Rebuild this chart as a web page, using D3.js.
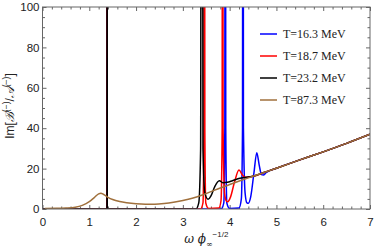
<!DOCTYPE html>
<meta charset="utf-8">
<style>
  body { margin: 0; background: #fff; }
  text { font-family: "Liberation Sans", Arial, sans-serif; }
</style>
<script src="https://d3js.org/d3.v7.min.js"></script>
<div id="chart"></div>
<script>
    // curves, [omega, Im(B/A)]
    const brown = [
        [0.05, 0.3], [0.3, 0.35], [0.5, 0.5], [0.7, 0.9], [0.85, 1.8], [1.0, 3.6],
        [1.1, 5.5], [1.2, 7.5], [1.25, 7.8], [1.3, 7.3], [1.4, 5.8], [1.5, 4.7],
        [1.65, 3.7], [1.8, 3.1], [2.0, 2.6], [2.2, 2.4], [2.4, 2.4], [2.6, 2.7],
        [2.8, 3.3], [3.0, 4.2], [3.2, 5.3], [3.4, 6.8], [3.6, 8.6], [3.8, 10.4],
        [4.0, 12.1], [4.25, 14.2], [4.5, 16.2], [4.75, 18.2], [5.0, 20.2],
        [5.5, 24.3], [6.0, 28.3], [6.5, 32.5], [7.0, 37]
    ];
    const blueHead = [
        [0, 0], [1.376, 0], [1.379, 400], [1.382, 0],
        [3.82, 0], [3.875, 3], [3.897, 40], [3.907, 400], [3.917, 40], [3.94, 3], [4.0, 0.3],
        [4.2, 0.5], [4.25, 5], [4.275, 40], [4.285, 400], [4.295, 40], [4.33, 8], [4.37, 3],
        [4.4, 2.8], [4.45, 6], [4.52, 18], [4.58, 27.9], [4.63, 22], [4.68, 17],
        [4.72, 16.8], [4.78, 18]
    ];
    const redHead = [
        [0, 0], [1.378, 0], [1.381, 400], [1.384, 0],
        [3.38, 0], [3.43, 3], [3.45, 40], [3.46, 400], [3.47, 40], [3.49, 3], [3.55, 0.3],
        [3.77, 0.5], [3.815, 4], [3.84, 40], [3.85, 400], [3.86, 40], [3.89, 8], [3.93, 4],
        [3.96, 3.6], [4.02, 6], [4.1, 13], [4.2, 19.3], [4.27, 17], [4.33, 15.7], [4.4, 15.8]
    ];
    const blackHead = [
        [0, 0], [1.378, 0], [1.381, 400], [1.384, 0],
        [3.28, 0], [3.34, 3], [3.38, 30], [3.398, 400], [3.412, 400], [3.43, 30], [3.47, 8],
        [3.54, 4.8], [3.6, 6.5], [3.68, 11], [3.78, 14], [3.86, 13], [3.95, 13.2],
        [4.06, 14], [4.22, 15.2]
    ];
    const blue = blueHead.concat(brown.filter(d => d[0] > 4.8));
    const red = redHead.concat(brown.filter(d => d[0] > 4.45));
    const black = blackHead.concat(brown.filter(d => d[0] > 4.3));

    const seriesNames = ["T=16.3 MeV", "T=18.7 MeV", "T=23.2 MeV", "T=87.3 MeV"];
    const seriesColors = ["#0000ff", "#ff0000", "#000000", "#a0703c"];
    const seriesData = [blue, red, black, brown];

    const xTicks = [0, 1, 2, 3, 4, 5, 6, 7];
    const yTicks = [0, 20, 40, 60, 80, 100];

    var width = 374, height = 248;
    var margin = {top: 7, right: 4, bottom: 39, left: 42.5};
    var w = width - margin.left - margin.right,
        h = height - margin.top - margin.bottom;

    var svg = d3.select("#chart").append("svg")
        .attr("width", width)
        .attr("height", height)
      .append("g")
        .attr("transform", "translate(" + margin.left + "," + margin.top + ")");

    var x = d3.scaleLinear().domain([0, 7]).range([0, w]);
    var y = d3.scaleLinear().domain([0, 100]).range([h, 0]);

    svg.append("clipPath").attr("id", "clip")
        .append("rect").attr("width", w).attr("height", h);

    // minor ticks
    var xMinor = d3.range(0, 7.001, 0.2).filter(v => Math.abs(v - Math.round(v)) > 1e-6);
    var yMinor = d3.range(0, 100.1, 5).filter(v => v % 20 !== 0);

    function frameAxis(g, axis) {
        g.call(axis);
        g.select(".domain").remove();
        g.selectAll("line").attr("stroke", "#666");
        g.selectAll("text").attr("fill", "#222").style("font-size", "11.5px");
    }

    svg.append("g").attr("transform", "translate(0," + h + ")")
        .call(frameAxis, d3.axisBottom(x).tickValues(xTicks).tickSize(-4).tickPadding(8.5).tickFormat(d3.format("d")));
    svg.append("g").attr("transform", "translate(0," + h + ")")
        .call(frameAxis, d3.axisBottom(x).tickValues(xMinor).tickSize(-2.5).tickFormat(""));
    svg.append("g")
        .call(frameAxis, d3.axisTop(x).tickValues(xTicks).tickSize(-4).tickFormat(""));
    svg.append("g")
        .call(frameAxis, d3.axisTop(x).tickValues(xMinor).tickSize(-2.5).tickFormat(""));
    svg.append("g")
        .call(frameAxis, d3.axisLeft(y).tickValues(yTicks).tickSize(-4).tickPadding(3));
    svg.append("g")
        .call(frameAxis, d3.axisLeft(y).tickValues(yMinor).tickSize(-2.5).tickFormat(""));
    svg.append("g").attr("transform", "translate(" + w + ",0)")
        .call(frameAxis, d3.axisRight(y).tickValues(yTicks).tickSize(-4).tickFormat(""));
    svg.append("g").attr("transform", "translate(" + w + ",0)")
        .call(frameAxis, d3.axisRight(y).tickValues(yMinor).tickSize(-2.5).tickFormat(""));

    var line = d3.line()
        .x(d => x(d[0]))
        .y(d => y(d[1]))
        .curve(d3.curveMonotoneX);

    svg.append("g").attr("clip-path", "url(#clip)")
        .selectAll("path")
        .data(seriesData)
        .enter().append("path")
            .attr("d", line)
            .attr("fill", "none")
            .attr("stroke", (d, i) => seriesColors[i])
            .attr("stroke-width", 1.5)
            .attr("stroke-linejoin", "round");

    svg.append("rect")
        .attr("width", w).attr("height", h)
        .attr("fill", "none").attr("stroke", "#666").attr("stroke-width", 1);

    // legend
    var legend = svg.append("g").selectAll("g")
        .data(seriesNames)
        .enter().append("g")
        .attr("transform", (d, i) => "translate(" + (260 - margin.left) + "," + (34 + i * 22 - margin.top) + ")");
    legend.append("line")
        .attr("x1", 0).attr("x2", 17)
        .attr("stroke", (d, i) => seriesColors[i])
        .attr("stroke-width", 1.5);
    legend.append("text")
        .attr("x", 23).attr("dy", "0.35em")
        .attr("fill", "#222")
        .style("font-family", "'Liberation Serif', 'Times New Roman', serif")
        .style("font-size", "12px")
        .text(d => d);

    // axis labels
    var xl = svg.append("text")
        .attr("x", w / 2).attr("y", h + 34)
        .attr("text-anchor", "middle")
        .attr("fill", "#222")
        .style("font-size", "12px").style("font-family", "'DejaVu Serif', serif");
    xl.append("tspan").style("font-style", "italic").text("ω ϕ");
    xl.append("tspan").attr("dy", 4).style("font-size", "8px").text("∞");
    xl.append("tspan").attr("dy", -10).style("font-size", "8px").style("font-family", "'Liberation Sans', sans-serif").text("−1/2");

    var yl = svg.append("text")
        .attr("transform", "translate(" + (-29) + "," + (h / 2 - 2) + ") rotate(-90)")
        .attr("text-anchor", "middle")
        .attr("fill", "#222")
        .style("font-size", "12px");
    yl.append("tspan").text("Im[");
    yl.append("tspan").style("font-family", "'DejaVu Serif', serif").style("font-style", "italic").text("ℬ");
    yl.append("tspan").attr("dy", -5).style("font-size", "8.5px").text("(−)");
    yl.append("tspan").attr("dy", 5).text("/");
    yl.append("tspan").style("font-family", "'DejaVu Serif', serif").style("font-style", "italic").text("𝒜");
    yl.append("tspan").attr("dy", -5).style("font-size", "8.5px").text("(−)");
    yl.append("tspan").attr("dy", 5).text("]");
</script>
